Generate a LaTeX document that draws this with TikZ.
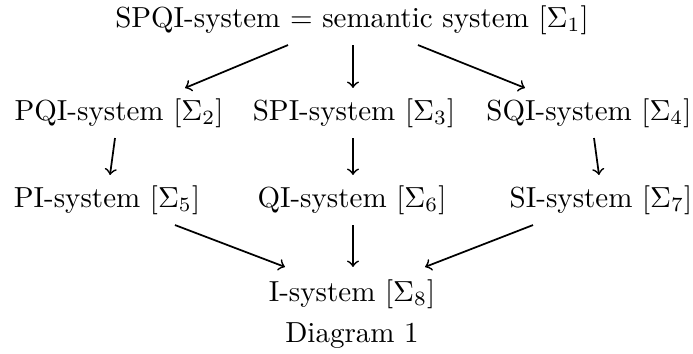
\documentclass[tikz,border=0pt]{standalone}
\usetikzlibrary{calc}
\begin{document}
\begin{tikzpicture}[x=0.01212cm, y=-0.01212cm, semithick]
	% Nodes and arrows:
	\useasboundingbox (0,0) rectangle (693,353);
	\node[anchor=center] (spqi) at (352, 20){SPQI-system = semantic system [$\Sigma_1$]};
	\node[anchor=center] (pqi) at (119, 113){PQI-system [$\Sigma_2$]};
	\node[anchor=center] (spi) at (354, 113){SPI-system [$\Sigma_3$]};
	\node[anchor=center] (sqi) at (589, 113){SQI-system [$\Sigma_4$]};
	\node[anchor=center] (pi) at (107, 200){PI-system [$\Sigma_5$]};
	\node[anchor=center] (qi) at (352, 200){QI-system [$\Sigma_6$]};
	\node[anchor=center] (si) at (601, 200){SI-system [$\Sigma_7$]};
	\node[anchor=center] (i) at (352, 294){I-system [$\Sigma_8$]};
	\node[anchor=center] (caption) at (352, 336){Diagram 1};
	\draw[->] ($(spqi.south)+(-64, 0)$) -- ($(pqi.north)+(66, 0)$);
	\draw[->] ($(spqi.south)+(1, 0)$) -- ($(spi.north)+(-1, 0)$);
	\draw[->] ($(spqi.south)+(66, 0)$) -- ($(sqi.north)+(-64, 0)$);
	\draw[->] ($(pqi.south)+(-4, 0)$) -- ($(pi.north)+(3, 0)$);
	\draw[->] ($(spi.south)+(-1, 0)$) -- ($(qi.north)+(1, 0)$);
	\draw[->] ($(sqi.south)+(5, 0)$) -- ($(si.north)+(-2, 0)$);
	\draw[->] ($(pi.south)+(68, 0)$) -- ($(i.north)+(-67, -2)$);
	\draw[->] ($(qi.south)+(1, 0)$) -- ($(i.north)+(1, -2)$);
	\draw[->] ($(si.south)+(-68, 0)$) -- ($(i.north)+(73, -2)$);
\end{tikzpicture}
\end{document}
